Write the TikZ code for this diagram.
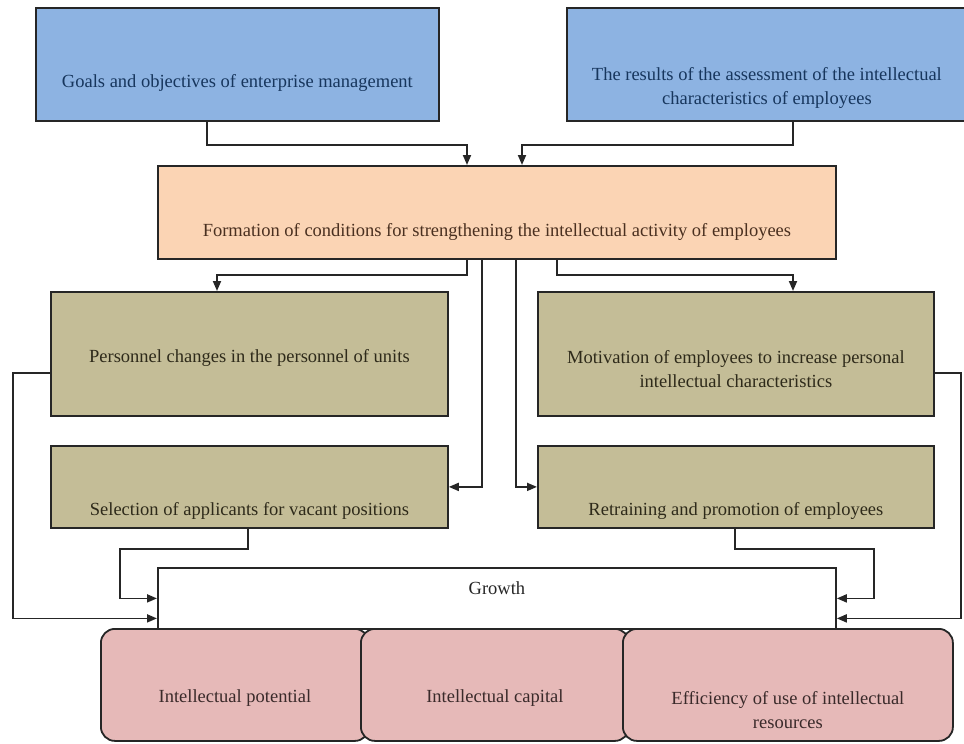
\documentclass[tikz,border=0pt]{standalone}
\usepackage{fontspec}
\setmainfont{Liberation Serif}
\usetikzlibrary{arrows.meta,positioning}

\definecolor{goalblue}{HTML}{8DB3E2}
\definecolor{condpeach}{HTML}{FBD4B4}
\definecolor{stepkhaki}{HTML}{C4BD97}
\definecolor{resrose}{HTML}{E6B9B8}
\definecolor{edgegray}{HTML}{262626}
\definecolor{bluetext}{HTML}{17365D}
\definecolor{peachtext}{HTML}{4A3020}
\definecolor{khakitext}{HTML}{2E2A1A}
\definecolor{rosetext}{HTML}{3A2A2A}

\tikzset{
    block/.style={draw=edgegray, line width=1.8pt, inner sep=0pt, anchor=north west},
    caption/.style={font=\fontsize{18.5}{24}\selectfont, align=center, inner sep=0pt},
    link/.style={draw=edgegray, line width=1.8pt},
    flow/.style={link, -{Triangle[length=10pt,width=8pt]}},
}

\begin{document}
\begin{tikzpicture}[x=1pt, y=-1pt]
    \useasboundingbox (0,0) rectangle (964,744);

    % Top boxes
    \node [block, fill=goalblue, minimum width=403pt, minimum height=113pt] (goals) at (35,7) {};
    \node [block, fill=goalblue, minimum width=400pt, minimum height=113pt] (results) at (566,7) {};
    \node [caption, text=bluetext] (goalsText) at ([yshift=-19pt]goals.center) {Goals and objectives of enterprise management};
    \node [caption, text=bluetext] (resultsText) at ([yshift=-24pt]results.center) {The results of the assessment of the intellectual\\characteristics of employees};

    % Conditions box
    \node [block, fill=condpeach, minimum width=678pt, minimum height=93pt] (cond) at (157,165) {};
    \node [caption, text=peachtext] (condText) at ([yshift=-20pt]cond.center) {Formation of conditions for strengthening the intellectual activity of employees};

    % Measures
    \node [block, fill=stepkhaki, minimum width=397pt, minimum height=124pt] (personnel) at (50,291) {};
    \node [block, fill=stepkhaki, minimum width=396pt, minimum height=124pt] (motivation) at (537,291) {};
    \node [block, fill=stepkhaki, minimum width=397pt, minimum height=82pt] (selection) at (50,445) {};
    \node [block, fill=stepkhaki, minimum width=396pt, minimum height=82pt] (retraining) at (537,445) {};
    \node [caption, text=khakitext] (personnelText) at ([yshift=-4pt]personnel.center) {Personnel changes in the personnel of units};
    \node [caption, text=khakitext] (motivationText) at ([yshift=-15pt]motivation.center) {Motivation of employees to increase personal\\intellectual characteristics};
    \node [caption, text=khakitext] (selectionText) at ([yshift=-24pt]selection.center) {Selection of applicants for vacant positions};
    \node [caption, text=khakitext] (retrainingText) at ([yshift=-24pt]retraining.center) {Retraining and promotion of employees};

    % Growth and results of growth
    \node [block, fill=white, minimum width=678pt, minimum height=61pt] (growth) at (157,567) {};
    \node [caption, text=edgegray] (growthText) at ([yshift=10pt]growth.center) {Growth};
    \node [block, fill=resrose, rounded corners=14pt, minimum width=268pt, minimum height=112pt] (potential) at (100,628) {};
    \node [block, fill=resrose, rounded corners=14pt, minimum width=268pt, minimum height=112pt] (capital) at (360,628) {};
    \node [block, fill=resrose, rounded corners=14pt, minimum width=330pt, minimum height=112pt] (efficiency) at (622,628) {};
    \node [caption, text=rosetext] (potentialText) at ([yshift=-13pt]potential.center) {Intellectual potential};
    \node [caption, text=rosetext] (capitalText) at ([yshift=-13pt]capital.center) {Intellectual capital};
    \node [caption, text=rosetext] (efficiencyText) at ([yshift=-25pt]efficiency.center) {Efficiency of use of intellectual\\resources};

    % Columns of the connectors
    \coordinate (gx) at (207,0);
    \coordinate (rx) at (793,0);
    \coordinate (c1x) at (467,0);
    \coordinate (c2x) at (522,0);
    \coordinate (c3x) at (482,0);
    \coordinate (c4x) at (557,0);
    \coordinate (c5x) at (516,0);
    \coordinate (px) at (217,0);
    \coordinate (sx) at (248,0);
    \coordinate (tx) at (735,0);
    \coordinate (lx) at (13,0);
    \coordinate (s2x) at (120,0);
    \coordinate (t2x) at (874,0);
    \coordinate (rrx) at (961,0);
    \coordinate (growthLow) at ([yshift=-20pt]growth.west);
    \coordinate (growthLowR) at ([yshift=-20pt]growth.east);

    % Into the conditions box
    \draw [flow] (goals.south -| gx) -- ++(0,23) -| (cond.north -| c1x);
    \draw [flow] (results.south -| rx) -- ++(0,23) -| (cond.north -| c2x);

    % Out of the conditions box
    \draw [flow] (cond.south -| c1x) -- ++(0,15) -| (personnel.north -| px);
    \draw [flow] (cond.south -| c4x) -- ++(0,15) -| (motivation.north -| rx);
    \draw [flow] (cond.south -| c3x) |- (selection.east);
    \draw [flow] (cond.south -| c5x) |- (retraining.west);

    % Into the growth box
    \draw [flow] ([yshift=-19pt]personnel.west) -| (growthLow -| lx) -- (growthLow);
    \draw [flow] ([yshift=-19pt]motivation.east) -| (growthLowR -| rrx) -- (growthLowR);
    \draw [flow] (selection.south -| sx) -- ++(0,20) -| (growth.west -| s2x) -- (growth.west);
    \draw [flow] (retraining.south -| tx) -- ++(0,20) -| (growth.east -| t2x) -- (growth.east);
\end{tikzpicture}
\end{document}
